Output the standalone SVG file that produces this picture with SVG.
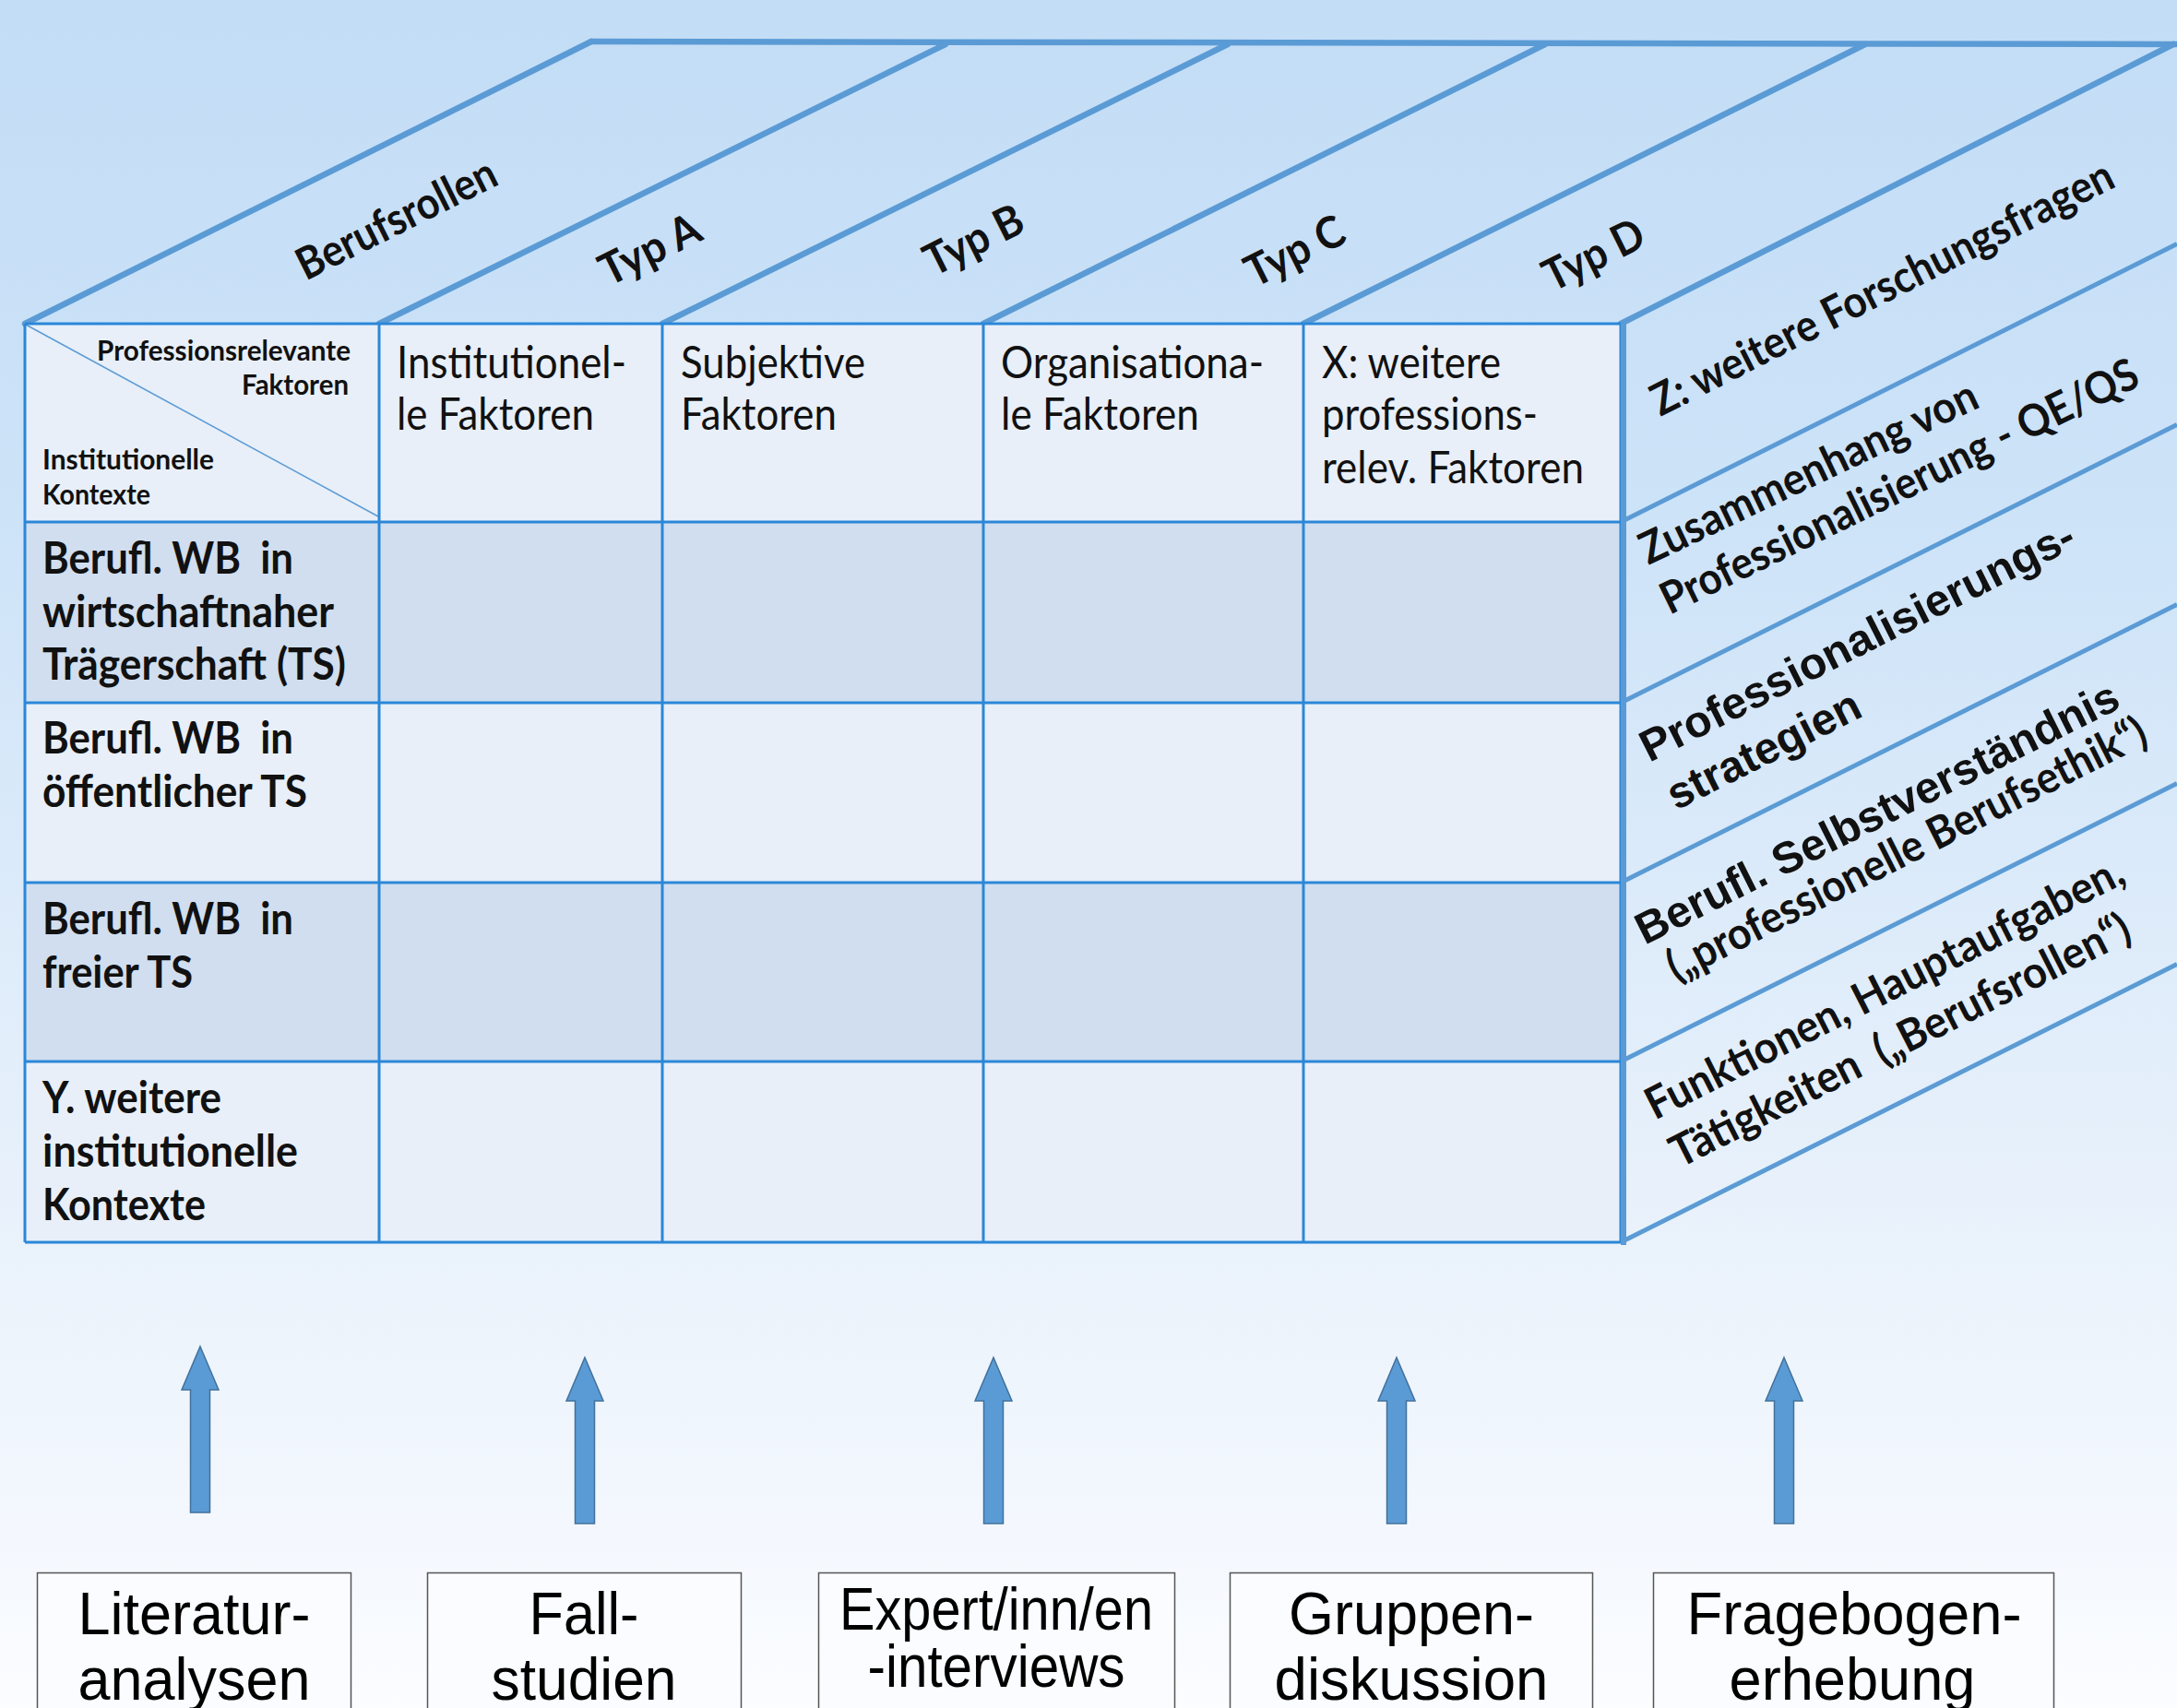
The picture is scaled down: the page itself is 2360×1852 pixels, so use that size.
<svg xmlns="http://www.w3.org/2000/svg" width="2360" height="1852" viewBox="0 0 2360 1852">
<defs>
<linearGradient id="bg" x1="0" y1="0" x2="0" y2="1">
<stop offset="0" stop-color="#c3ddf6"/>
<stop offset="0.3" stop-color="#cde3f8"/>
<stop offset="0.7" stop-color="#e8f1fb"/>
<stop offset="0.9" stop-color="#f4f8fe"/>
<stop offset="1" stop-color="#fbfdff"/>
</linearGradient>
<style>
.frame{stroke:#5b9bd5;stroke-width:6.5;fill:none;stroke-linecap:round}
.side{stroke:#5b9bd5;stroke-width:5;fill:none}
.grid{stroke:#2b87d8;stroke-width:3;fill:none}
.light{fill:#e8eff8}
.dark{fill:#d0deef}
.hd{font-family:Lato,"Liberation Sans",sans-serif;font-size:48px;fill:#111}
.hs{font-family:Lato,"Liberation Sans",sans-serif;font-size:31px;font-weight:bold;fill:#111}
.rl{font-family:Lato,"Liberation Sans",sans-serif;font-size:48px;font-weight:bold;fill:#111;white-space:pre}
.tp{font-family:Lato,"Liberation Sans",sans-serif;font-size:48px;font-weight:bold;fill:#111;white-space:pre}
.ab{font-family:"Liberation Sans",Arial,sans-serif;font-weight:bold;fill:#111;white-space:pre}
.bx{fill:#fafcff;stroke:#555;stroke-width:1.5}
.bt{font-family:"Liberation Sans",Arial,sans-serif;font-size:64px;fill:#000;text-anchor:middle}
.arr{fill:#5b9bd5;stroke:#41719c;stroke-width:1.5}
</style>
</defs>
<rect x="0" y="0" width="2360" height="1852" fill="url(#bg)"/>

<g id="cube-frame">
<path class="frame" d="M641,45 L2360,48"/>
<path class="frame" d="M27,351 L641,45 M411,351 L1025,48 M718,351 L1331,48 M1066,351 L1675,48 M1413,351 L2022,48 M1757,351 L2356,48"/>
<path class="side" d="M1757,566 L2360,264.5 M1757,762 L2360,460.5 M1757,957 L2360,655.5 M1757,1151 L2360,849.5 M1757,1347 L2360,1045.5"/>
</g>

<g id="top-labels">
<g id="label-berufsrollen"><text class="tp" text-anchor="middle" transform="translate(437,252) rotate(-26.5)" textLength="236" lengthAdjust="spacingAndGlyphs">Berufsrollen</text></g>
<g id="label-typ-a"><text class="tp" text-anchor="middle" transform="translate(712,285) rotate(-26.5)" textLength="116" lengthAdjust="spacingAndGlyphs">Typ A</text></g>
<g id="label-typ-b"><text class="tp" text-anchor="middle" transform="translate(1063,275) rotate(-26.5)" textLength="114" lengthAdjust="spacingAndGlyphs">Typ B</text></g>
<g id="label-typ-c"><text class="tp" text-anchor="middle" transform="translate(1411,287) rotate(-26.5)" textLength="114" lengthAdjust="spacingAndGlyphs">Typ C</text></g>
<g id="label-typ-d"><text class="tp" text-anchor="middle" transform="translate(1735,291) rotate(-26.5)" textLength="116" lengthAdjust="spacingAndGlyphs">Typ D</text></g>
</g>

<g id="side-labels">
<g id="side-z"><text class="tp" transform="translate(1800,452) rotate(-26.8)" textLength="555" lengthAdjust="spacingAndGlyphs">Z: weitere Forschungsfragen</text></g>
<g id="side-qe">
<text class="tp" transform="translate(1787,613) rotate(-25.5)" textLength="400" lengthAdjust="spacingAndGlyphs">Zusammenhang von</text>
<text class="tp" transform="translate(1810,667) rotate(-26)" textLength="570" lengthAdjust="spacingAndGlyphs">Professionalisierung - QE/QS</text>
</g>
<g id="side-strategien">
<text class="ab" font-size="48" transform="translate(1788,827) rotate(-26.8)" textLength="521" lengthAdjust="spacingAndGlyphs">Professionalisierungs-</text>
<text class="ab" font-size="48" transform="translate(1817,879) rotate(-26.8)" textLength="229" lengthAdjust="spacingAndGlyphs">strategien</text>
</g>
<g id="side-ethik">
<text class="ab" font-size="48" transform="translate(1783,1025) rotate(-26.5)" textLength="579" lengthAdjust="spacingAndGlyphs">Berufl. Selbstverständnis</text>
<text class="tp" font-size="46" transform="translate(1817,1065) rotate(-26.8)" textLength="576" lengthAdjust="spacingAndGlyphs">(„professionelle Berufsethik“)</text>
</g>
<g id="side-funktionen">
<text class="tp" transform="translate(1794,1215) rotate(-26.8)" textLength="574" lengthAdjust="spacingAndGlyphs">Funktionen, Hauptaufgaben,</text>
<text class="tp" transform="translate(1821,1267) rotate(-26.8)" textLength="552" lengthAdjust="spacingAndGlyphs">Tätigkeiten  („Berufsrollen“)</text>
</g>
</g>

<g id="table">
<g id="header-row"><rect class="light" x="27" y="351" width="1730" height="215"/></g>
<g id="row-1-bg"><rect class="dark" x="27" y="566" width="1730" height="196"/></g>
<g id="row-2-bg"><rect class="light" x="27" y="762" width="1730" height="195"/></g>
<g id="row-3-bg"><rect class="dark" x="27" y="957" width="1730" height="194"/></g>
<g id="row-4-bg"><rect class="light" x="27" y="1151" width="1730" height="196"/></g>
<path d="M28,352 L410,560" stroke="#5b9bd5" stroke-width="1.5" fill="none"/>
<path class="grid" d="M27,351 H1757 M27,566 H1757 M27,762 H1757 M27,957 H1757 M27,1151 H1757 M27,1347 H1757 M27,351 V1347 M411,351 V1347 M718,351 V1347 M1066,351 V1347 M1413,351 V1347 M1757,351 V1347"/>

<g id="cell-corner">
<text class="hs" text-anchor="end" x="380" y="391" textLength="275" lengthAdjust="spacingAndGlyphs">Professionsrelevante</text>
<text class="hs" text-anchor="end" x="378" y="428" textLength="116" lengthAdjust="spacingAndGlyphs">Faktoren</text>
<text class="hs" x="46" y="509" textLength="186" lengthAdjust="spacingAndGlyphs">Institutionelle</text>
<text class="hs" x="46" y="547" textLength="117" lengthAdjust="spacingAndGlyphs">Kontexte</text>
</g>
<g id="col-institutionell">
<text class="hd" x="430" y="410" textLength="249" lengthAdjust="spacingAndGlyphs">Institutionel-</text>
<text class="hd" x="430" y="466" textLength="214" lengthAdjust="spacingAndGlyphs">le Faktoren</text>
</g>
<g id="col-subjektiv">
<text class="hd" x="738" y="410" textLength="200" lengthAdjust="spacingAndGlyphs">Subjektive</text>
<text class="hd" x="738" y="466" textLength="169" lengthAdjust="spacingAndGlyphs">Faktoren</text>
</g>
<g id="col-organisational">
<text class="hd" x="1085" y="410" textLength="285" lengthAdjust="spacingAndGlyphs">Organisationa-</text>
<text class="hd" x="1085" y="466" textLength="215" lengthAdjust="spacingAndGlyphs">le Faktoren</text>
</g>
<g id="col-weitere">
<text class="hd" x="1433" y="410" textLength="194" lengthAdjust="spacingAndGlyphs">X: weitere</text>
<text class="hd" x="1433" y="466" textLength="234" lengthAdjust="spacingAndGlyphs">professions-</text>
<text class="hd" x="1433" y="524" textLength="284" lengthAdjust="spacingAndGlyphs">relev. Faktoren</text>
</g>
<g id="row-wirtschaft">
<text class="rl" x="46" y="622" textLength="272" lengthAdjust="spacingAndGlyphs">Berufl. WB  in</text>
<text class="rl" x="46" y="680" textLength="316" lengthAdjust="spacingAndGlyphs">wirtschaftnaher</text>
<text class="rl" x="46" y="737" textLength="329" lengthAdjust="spacingAndGlyphs">Trägerschaft (TS)</text>
</g>
<g id="row-oeffentlich">
<text class="rl" x="46" y="817" textLength="272" lengthAdjust="spacingAndGlyphs">Berufl. WB  in</text>
<text class="rl" x="46" y="875" textLength="287" lengthAdjust="spacingAndGlyphs">öffentlicher TS</text>
</g>
<g id="row-frei">
<text class="rl" x="46" y="1013" textLength="272" lengthAdjust="spacingAndGlyphs">Berufl. WB  in</text>
<text class="rl" x="46" y="1071" textLength="163" lengthAdjust="spacingAndGlyphs">freier TS</text>
</g>
<g id="row-weitere">
<text class="rl" x="46" y="1207" textLength="194" lengthAdjust="spacingAndGlyphs">Y. weitere</text>
<text class="rl" x="46" y="1265" textLength="277" lengthAdjust="spacingAndGlyphs">institutionelle</text>
<text class="rl" x="46" y="1323" textLength="177" lengthAdjust="spacingAndGlyphs">Kontexte</text>
</g>
</g>
<path d="M1760,351 L1760,1350" stroke="#5b9bd5" stroke-width="6"/>

<g id="connectors">
<polygon class="arr" points="217,1460 237,1507 227.5,1507 227.5,1640 206.5,1640 206.5,1507 197,1507"/>
<polygon class="arr" points="634,1472 654,1519 644.5,1519 644.5,1652 623.5,1652 623.5,1519 614,1519"/>
<polygon class="arr" points="1077,1472 1097,1519 1087.5,1519 1087.5,1652 1066.5,1652 1066.5,1519 1057,1519"/>
<polygon class="arr" points="1514,1472 1534,1519 1524.5,1519 1524.5,1652 1503.5,1652 1503.5,1519 1494,1519"/>
<polygon class="arr" points="1934,1472 1954,1519 1944.5,1519 1944.5,1652 1923.5,1652 1923.5,1519 1914,1519"/>
</g>

<g id="box-literatur">
<rect class="bx" x="40.5" y="1705.5" width="340" height="160"/>
<text class="bt" x="210.5" y="1772" textLength="252" lengthAdjust="spacingAndGlyphs">Literatur-</text>
<text class="bt" x="210.5" y="1843" textLength="252" lengthAdjust="spacingAndGlyphs">analysen</text>
</g>
<g id="box-fallstudien">
<rect class="bx" x="463.5" y="1705.5" width="340" height="160"/>
<text class="bt" x="633" y="1772" textLength="119" lengthAdjust="spacingAndGlyphs">Fall-</text>
<text class="bt" x="633" y="1843" textLength="201" lengthAdjust="spacingAndGlyphs">studien</text>
</g>
<g id="box-experten">
<rect class="bx" x="887.5" y="1705.5" width="386" height="160"/>
<text class="bt" font-size="57" x="1080" y="1767" textLength="340" lengthAdjust="spacingAndGlyphs">Expert/inn/en</text>
<text class="bt" font-size="57" x="1080" y="1829" textLength="279" lengthAdjust="spacingAndGlyphs">-interviews</text>
</g>
<g id="box-gruppen">
<rect class="bx" x="1333.5" y="1705.5" width="393" height="160"/>
<text class="bt" x="1530" y="1772" textLength="266" lengthAdjust="spacingAndGlyphs">Gruppen-</text>
<text class="bt" x="1530" y="1843" textLength="297" lengthAdjust="spacingAndGlyphs">diskussion</text>
</g>
<g id="box-fragebogen">
<rect class="bx" x="1792.5" y="1705.5" width="434" height="160"/>
<text class="bt" x="2010" y="1772" textLength="363" lengthAdjust="spacingAndGlyphs">Fragebogen-</text>
<text class="bt" x="2008" y="1843" textLength="267" lengthAdjust="spacingAndGlyphs">erhebung</text>
</g>
</svg>
